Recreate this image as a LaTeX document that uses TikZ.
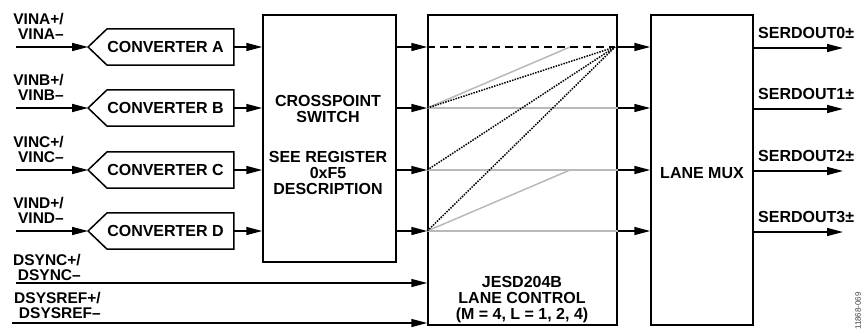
\documentclass[tikz,border=0pt]{standalone}
\usepackage{fontspec}
\setmainfont{Liberation Sans}
\usetikzlibrary{positioning,arrows.meta}

\begin{document}
\begin{tikzpicture}[x=1pt, y=-1pt,
    every node/.style={font=\fontsize{16}{16}\selectfont\bfseries, inner sep=0pt},
    box/.style={draw, line width=1.5pt},
    conv/.style={minimum width=121pt, minimum height=36pt},
    outline/.style={line width=1.5pt},
    lbl/.style={anchor=east, align=right, font=\fontsize{15.5}{15}\selectfont\bfseries},
    arr/.style={-{Triangle[length=16pt,width=8pt]}, line width=1.5pt},
    lane/.style={line width=1.5pt, gray!55},
    cross/.style={line width=1.5pt, dash pattern=on 1.5pt off 1.2pt}]
  \useasboundingbox (0,0) rectangle (866,335);
  % blocks
  \node[box, minimum width=133pt, minimum height=247pt] (xp)   at (329.5,138.5) {};
  \node[box, minimum width=189pt, minimum height=310pt] (jesd) at (522.5,170) {};
  \node[box, minimum width=102pt, minimum height=310pt] (mux)  at (702,170) {};
  \node[align=center] (xptxt) at (328,145) {CROSSPOINT\\SWITCH\\[24pt]SEE REGISTER\\0xF5\\DESCRIPTION};
  \node[align=center] (jesdtxt) at (522,300) {JESD204B\\LANE CONTROL\\(M = 4, L = 1, 2, 4)};
  \node (muxtxt) at (702,173) {LANE MUX};
  % converters (pointed on the input side)
  \node[conv] (convA) at (170.5,47)  {CONVERTER A\kern10pt};
  \node[conv] (convB) at (170.5,108) {CONVERTER B\kern10pt};
  \node[conv] (convC) at (170.5,170) {CONVERTER C\kern10pt};
  \node[conv] (convD) at (170.5,231) {CONVERTER D\kern10pt};
  \coordinate (tipA) at ([xshift=-19pt]convA.west);
  \coordinate (tipB) at ([xshift=-19pt]convB.west);
  \coordinate (tipC) at ([xshift=-19pt]convC.west);
  \coordinate (tipD) at ([xshift=-19pt]convD.west);
  \draw[outline] (convA.north west) -- (convA.north east) -- (convA.south east) -- (convA.south west) -- (tipA) -- cycle;
  \draw[outline] (convB.north west) -- (convB.north east) -- (convB.south east) -- (convB.south west) -- (tipB) -- cycle;
  \draw[outline] (convC.north west) -- (convC.north east) -- (convC.south east) -- (convC.south west) -- (tipC) -- cycle;
  \draw[outline] (convD.north west) -- (convD.north east) -- (convD.south east) -- (convD.south west) -- (tipD) -- cycle;
  % analog inputs
  \node[lbl] (vina) at (64,26.5)  {VINA+/\\VINA–};
  \node[lbl] (vinb) at (64,87.5)  {VINB+/\\VINB–};
  \node[lbl] (vinc) at (64,149.5) {VINC+/\\VINC–};
  \node[lbl] (vind) at (64,210.5) {VIND+/\\VIND–};
  \coordinate (inA) at (16,47);
  \coordinate (inB) at (16,108);
  \coordinate (inC) at (16,170);
  \coordinate (inD) at (16,231);
  \draw[arr] (inA) -- (tipA);
  \draw[arr] (inB) -- (tipB);
  \draw[arr] (inC) -- (tipC);
  \draw[arr] (inD) -- (tipD);
  % converters to crosspoint to lanes
  \draw[arr] (convA.east) -- (convA.east -| xp.west);
  \draw[arr] (convB.east) -- (convB.east -| xp.west);
  \draw[arr] (convC.east) -- (convC.east -| xp.west);
  \draw[arr] (convD.east) -- (convD.east -| xp.west);
  \draw[arr] (convA.east -| xp.east) -- (convA.east -| jesd.west);
  \draw[arr] (convB.east -| xp.east) -- (convB.east -| jesd.west);
  \draw[arr] (convC.east -| xp.east) -- (convC.east -| jesd.west);
  \draw[arr] (convD.east -| xp.east) -- (convD.east -| jesd.west);
  % sync and sysref
  \node[lbl] (dsync)   at (81,267)  {DSYNC+/\\DSYNC–};
  \node[lbl] (dsysref) at (101,305) {DSYSREF+/\\DSYSREF–};
  \coordinate (syncin) at (16,283);
  \coordinate (refin)  at (12,323);
  \draw[arr] (syncin) -- (syncin -| jesd.west);
  \draw[arr] (refin) -- (refin -| jesd.west);
  % lane routing inside JESD204B
  \coordinate (l0) at (convA.east -| jesd.west);
  \coordinate (l1) at (convB.east -| jesd.west);
  \coordinate (l2) at (convC.east -| jesd.west);
  \coordinate (l3) at (convD.east -| jesd.west);
  \coordinate (hub) at (615,47);
  \coordinate (g0) at (570,47);
  \coordinate (g2) at (570,170);
  \draw[lane] (l1) -- (g0);
  \draw[lane] (l1) -- (l1 -| jesd.east);
  \draw[lane] (l2) -- (l2 -| jesd.east);
  \draw[lane] (l3) -- (g2);
  \draw[lane] (l3) -- (l3 -| jesd.east);
  \draw[line width=1.5pt, dash pattern=on 8pt off 5pt] (l0) -- (hub);
  \draw[cross] (l1) -- (hub);
  \draw[cross] (l2) -- (hub);
  \draw[cross] (l3) -- (hub);
  \draw[arr] (l0 -| jesd.east) -- (l0 -| mux.west);
  \draw[arr] (l1 -| jesd.east) -- (l1 -| mux.west);
  \draw[arr] (l2 -| jesd.east) -- (l2 -| mux.west);
  \draw[arr] (l3 -| jesd.east) -- (l3 -| mux.west);
  % serial outputs
  \coordinate (s0) at (843,48);
  \coordinate (s1) at (843,109);
  \coordinate (s2) at (843,171);
  \coordinate (s3) at (843,232);
  \draw[arr] (s0 -| mux.east) -- (s0);
  \draw[arr] (s1 -| mux.east) -- (s1);
  \draw[arr] (s2 -| mux.east) -- (s2);
  \draw[arr] (s3 -| mux.east) -- (s3);
  \node[anchor=west] (o0) at (758,33)  {SERDOUT0±};
  \node[anchor=west] (o1) at (758,94)  {SERDOUT1±};
  \node[anchor=west] (o2) at (758,156) {SERDOUT2±};
  \node[anchor=west] (o3) at (758,217) {SERDOUT3±};
  \node[rotate=90, font=\fontsize{8}{9}\selectfont, text=black!75] (figno) at (858,311) {11868-069};
\end{tikzpicture}
\end{document}
